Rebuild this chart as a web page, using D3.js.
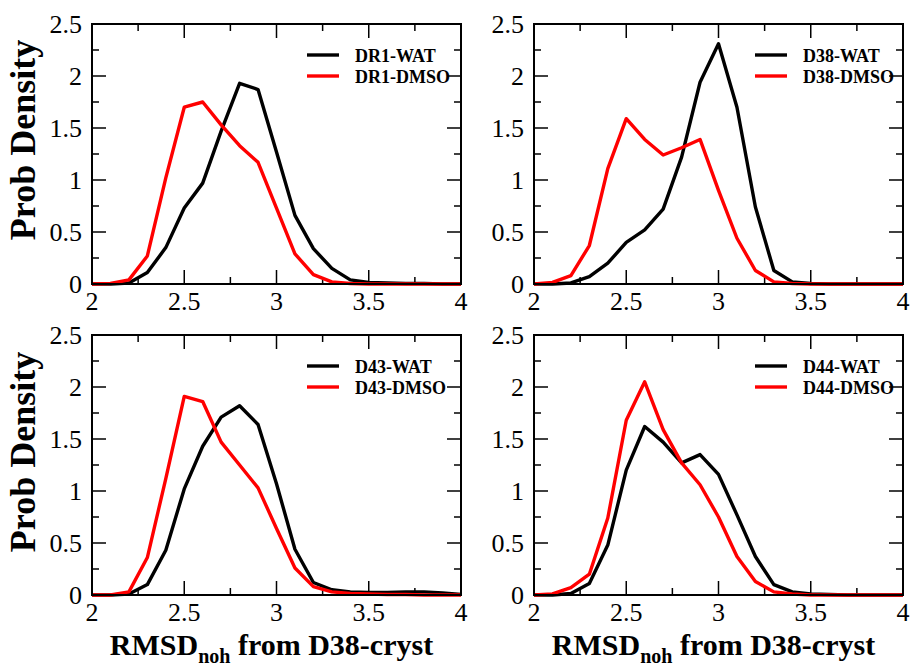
<!DOCTYPE html>
<html>
<head>
<meta charset="utf-8">
<script src="https://cdn.jsdelivr.net/npm/d3@7"></script>
<style>
  html, body { margin: 0; padding: 0; background: #fff; }
</style>
</head>
<body>
<div id="chart"></div>
<script>
// RMSD bins (x values shared by every curve)
const rmsd = [2.0, 2.1, 2.2, 2.3, 2.4, 2.5, 2.6, 2.7, 2.8, 2.9, 3.0,
              3.1, 3.2, 3.3, 3.4, 3.5, 3.6, 3.7, 3.8, 3.9, 4.0];

const dr1Wat  = [0, 0, 0.01, 0.11, 0.35, 0.73, 0.97, 1.47, 1.93, 1.87, 1.27, 0.66, 0.34, 0.15, 0.04, 0.015, 0.01, 0.005, 0.005, 0, 0];
const dr1Dmso = [0, 0.005, 0.04, 0.27, 1.02, 1.70, 1.75, 1.53, 1.33, 1.17, 0.73, 0.29, 0.09, 0.02, 0.005, 0, 0, 0, 0, 0, 0];

const d38Wat  = [0, 0, 0.01, 0.07, 0.20, 0.40, 0.52, 0.72, 1.22, 1.94, 2.31, 1.70, 0.74, 0.13, 0.02, 0.005, 0, 0, 0, 0, 0];
const d38Dmso = [0, 0.015, 0.08, 0.37, 1.11, 1.59, 1.39, 1.24, 1.31, 1.39, 0.90, 0.44, 0.13, 0.02, 0.005, 0, 0, 0, 0, 0, 0];

const d43Wat  = [0, 0, 0.01, 0.10, 0.43, 1.02, 1.43, 1.71, 1.82, 1.64, 1.07, 0.44, 0.12, 0.05, 0.03, 0.025, 0.025, 0.03, 0.03, 0.02, 0.005];
const d43Dmso = [0, 0, 0.03, 0.36, 1.12, 1.91, 1.86, 1.47, 1.25, 1.03, 0.64, 0.26, 0.08, 0.03, 0.015, 0.01, 0.005, 0.005, 0, 0, 0];

const d44Wat  = [0, 0, 0.015, 0.11, 0.48, 1.20, 1.62, 1.47, 1.27, 1.35, 1.16, 0.77, 0.37, 0.10, 0.03, 0.01, 0.005, 0, 0, 0, 0];
const d44Dmso = [0, 0.01, 0.07, 0.20, 0.74, 1.68, 2.05, 1.59, 1.27, 1.06, 0.75, 0.37, 0.13, 0.03, 0.01, 0, 0, 0, 0, 0, 0];

const xTicks = [2, 2.5, 3, 3.5, 4];
const xTickLabels = ["2", "2.5", "3", "3.5", "4"];
const yTicks = [0, 0.5, 1, 1.5, 2, 2.5];
const yTickLabels = ["0", "0.5", "1", "1.5", "2", "2.5"];

const panels = [
  { left: 92,  top: 24,  legendDx: 215, series: [["DR1-WAT", dr1Wat], ["DR1-DMSO", dr1Dmso]] },
  { left: 534, top: 24,  legendDx: 221, series: [["D38-WAT", d38Wat], ["D38-DMSO", d38Dmso]] },
  { left: 92,  top: 335, legendDx: 215, series: [["D43-WAT", d43Wat], ["D43-DMSO", d43Dmso]] },
  { left: 534, top: 335, legendDx: 221, series: [["D44-WAT", d44Wat], ["D44-DMSO", d44Dmso]] }
];
const colors = ["#000000", "#ff0000"];
const serif = "'Liberation Serif', 'DejaVu Serif', serif";

const width = 912, height = 666;
const innerW = 369, innerH = 260;

const svg = d3.select("#chart").append("svg")
  .attr("width", width).attr("height", height)
  .style("font-family", serif);

const x = d3.scaleLinear().domain([2, 4]).range([0, innerW]);
const y = d3.scaleLinear().domain([0, 2.5]).range([innerH, 0]);

const line = d3.line()
  .x((d, i) => x(rmsd[i]))
  .y(d => y(d));

const minorX = d3.range(2, 4.001, 0.25).filter(v => !xTicks.includes(+v.toFixed(2)));
const minorY = d3.range(0, 2.501, 0.25).filter(v => !yTicks.includes(+v.toFixed(2)));

panels.forEach(p => {
  const g = svg.append("g").attr("transform", `translate(${p.left},${p.top})`);

  // inward ticks on all four sides (xmgrace style)
  const tk = g.append("g").attr("stroke", "#000").attr("stroke-width", 1.5);
  [[xTicks, 14], [minorX, 7]].forEach(([vals, len]) => {
    tk.selectAll(null).data(vals).join("line")
      .attr("x1", d => x(d)).attr("x2", d => x(d))
      .attr("y1", innerH).attr("y2", innerH - len);
    tk.selectAll(null).data(vals).join("line")
      .attr("x1", d => x(d)).attr("x2", d => x(d))
      .attr("y1", 0).attr("y2", len);
  });
  [[yTicks, 14], [minorY, 7]].forEach(([vals, len]) => {
    tk.selectAll(null).data(vals).join("line")
      .attr("y1", d => y(d)).attr("y2", d => y(d))
      .attr("x1", 0).attr("x2", len);
    tk.selectAll(null).data(vals).join("line")
      .attr("y1", d => y(d)).attr("y2", d => y(d))
      .attr("x1", innerW).attr("x2", innerW - len);
  });

  // tick labels
  g.selectAll(null).data(xTicks).join("text")
    .attr("x", d => x(d)).attr("y", innerH + 26)
    .attr("text-anchor", "middle")
    .attr("font-size", 26)
    .text((d, i) => xTickLabels[i]);
  g.selectAll(null).data(yTicks).join("text")
    .attr("x", -10).attr("y", d => y(d) + 9)
    .attr("text-anchor", "end")
    .attr("font-size", 26)
    .text((d, i) => yTickLabels[i]);

  // curves
  p.series.forEach(([name, vals], k) => {
    g.append("path")
      .datum(vals)
      .attr("fill", "none")
      .attr("stroke", colors[k])
      .attr("stroke-width", 3.4)
      .attr("stroke-linejoin", "round")
      .attr("d", line);
  });

  // frame
  g.append("rect")
    .attr("width", innerW).attr("height", innerH)
    .attr("fill", "none").attr("stroke", "#000").attr("stroke-width", 2);

  // legend
  p.series.forEach(([name], k) => {
    const ly = 31 + k * 21;
    g.append("line")
      .attr("x1", p.legendDx).attr("x2", p.legendDx + 32)
      .attr("y1", ly).attr("y2", ly)
      .attr("stroke", colors[k]).attr("stroke-width", 3.4);
    g.append("text")
      .attr("x", p.legendDx + 48).attr("y", ly + 6.5)
      .attr("font-size", 18).attr("font-weight", "bold")
      .text(name);
  });
});

// y axis titles
[140, 452].forEach(cy => {
  svg.append("text")
    .attr("transform", `translate(35,${cy}) rotate(-90)`)
    .attr("text-anchor", "middle")
    .attr("font-size", 36).attr("font-weight", "bold")
    .text("Prob Density");
});

// x axis titles
[92 + innerW / 2 - 5, 534 + innerW / 2 - 5].forEach(cx => {
  const t = svg.append("text")
    .attr("x", cx).attr("y", 655)
    .attr("text-anchor", "middle")
    .attr("font-size", 30).attr("font-weight", "bold");
  t.append("tspan").text("RMSD");
  t.append("tspan").attr("font-size", 20).attr("dy", 8).text("noh");
  t.append("tspan").attr("dy", -8).text(" from D38-cryst");
});
</script>
</body>
</html>
